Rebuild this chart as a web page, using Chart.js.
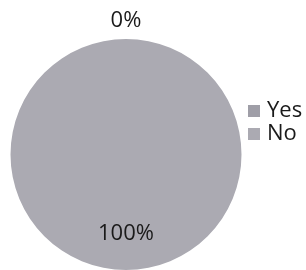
<!DOCTYPE html>
<html>
<head>
<meta charset="utf-8">
<script src="https://cdn.jsdelivr.net/npm/chart.js@4"></script>
<style>
  html, body { margin: 0; padding: 0; background: #fff; }
  #wrap { width: 306px; height: 270px; }
</style>
</head>
<body>
<div id="wrap"><canvas id="pieChart" width="306" height="270"></canvas></div>
<script>
const categories = ['Yes', 'No'];
const percentValues = [0, 100];
const percentLabels = ['0%', '100%'];
const sliceColors = ['#9f9ea7', '#abaab2'];

// draws the value labels and the small legend on the right
const pieExtras = {
  id: 'pieExtras',
  afterDraw(chart) {
    const ctx = chart.ctx;
    const arcs = chart.getDatasetMeta(0).data;
    ctx.save();
    ctx.font = '22px "Open Sans"';
    ctx.fillStyle = '#1a1a1a';
    ctx.textAlign = 'center';
    ctx.textBaseline = 'middle';
    arcs.forEach((arc, i) => {
      const p = arc.getProps(['x', 'y', 'startAngle', 'endAngle', 'outerRadius'], true);
      const mid = (p.startAngle + p.endAngle) / 2;
      // empty slice gets its label outside the pie, the full one inside
      const r = percentValues[i] === 0 ? p.outerRadius + 18 : p.outerRadius * 0.69;
      ctx.fillText(percentLabels[i], p.x + Math.cos(mid) * r, p.y + Math.sin(mid) * r);
    });

    ctx.textAlign = 'left';
    categories.forEach((name, i) => {
      const y = 111 + i * 23;
      ctx.fillStyle = sliceColors[i];
      ctx.fillRect(248, y - 6, 12, 12);
      ctx.fillStyle = '#1a1a1a';
      ctx.fillText(name, 267, y);
    });
    ctx.restore();
  }
};

new Chart(document.getElementById('pieChart'), {
  type: 'pie',
  data: {
    labels: categories,
    datasets: [{
      data: percentValues,
      backgroundColor: sliceColors,
      borderWidth: 0
    }]
  },
  options: {
    responsive: false,
    animation: false,
    layout: { padding: { left: 10, top: 39, right: 64, bottom: 0 } },
    plugins: {
      legend: { display: false },
      tooltip: { enabled: false }
    }
  },
  plugins: [pieExtras]
});
</script>
</body>
</html>
